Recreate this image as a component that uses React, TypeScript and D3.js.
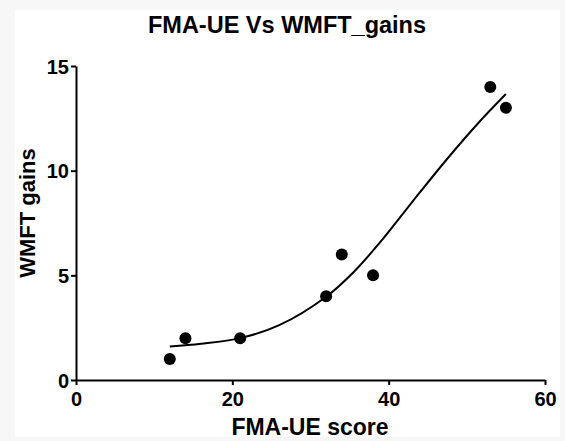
import React from 'react';
import * as d3 from 'd3';

// Observed data
const fmaScores = [12, 14, 21, 32, 34, 38, 53, 55];
const wmftGains = [1, 2, 2, 4, 6, 5, 14, 13];

// Fitted curve
const fitX = [12, 16, 21, 26, 32, 35.5, 39, 43, 47.5, 51.5, 55];
const fitY = [1.6, 1.73, 2.0, 2.62, 3.98, 5.15, 6.62, 8.5, 10.57, 12.29, 13.66];

const xTicks = [0, 20, 40, 60];
const yTicks = [0, 5, 10, 15];

const W = 565;
const H = 441;
const FONT = 'Arial, "Liberation Sans", Helvetica, sans-serif';

const App = () => {
  const ref = React.useRef<SVGSVGElement>(null);

  React.useEffect(() => {
    const svg = d3.select(ref.current);
    svg.selectAll('*').remove();

    // Page background and white panel
    svg.append('rect').attr('width', W).attr('height', H).attr('fill', '#f7f7f7');
    svg.append('rect')
      .attr('x', 15).attr('y', 10)
      .attr('width', 545).attr('height', 427)
      .attr('fill', '#ffffff');

    const x = d3.scaleLinear().domain([0, 60]).range([76, 545]);
    const y = d3.scaleLinear().domain([0, 15]).range([380, 66]);

    // Axes
    const xAxis = svg.append('g')
      .attr('transform', `translate(0,${y(0)})`)
      .call(d3.axisBottom(x).tickValues(xTicks).tickSize(5).tickSizeOuter(0).tickPadding(4));
    const yAxis = svg.append('g')
      .attr('transform', `translate(${x(0)},0)`)
      .call(d3.axisLeft(y).tickValues(yTicks).tickSize(5).tickSizeOuter(0).tickPadding(2));

    [xAxis, yAxis].forEach((g) => {
      g.select('.domain').attr('stroke', '#000').attr('stroke-width', 2);
      g.selectAll('.tick line').attr('stroke', '#000').attr('stroke-width', 2);
      g.selectAll('.tick text')
        .attr('fill', '#000')
        .style('font-family', FONT)
        .style('font-weight', 'bold')
        .style('font-size', '20px');
    });
    xAxis.selectAll('.tick text').attr('dy', '0.85em');
    yAxis.selectAll('.tick text').attr('dy', '0.36em');

    // Fitted curve
    const line = d3.line<number>()
      .x((d) => x(d))
      .y((_, i) => y(fitY[i]))
      .curve(d3.curveCatmullRom.alpha(0.5));
    svg.append('path')
      .datum(fitX)
      .attr('d', line)
      .attr('fill', 'none')
      .attr('stroke', '#000')
      .attr('stroke-width', 2);

    // Points
    svg.append('g')
      .selectAll('circle')
      .data(fmaScores)
      .join('circle')
      .attr('cx', (d) => x(d))
      .attr('cy', (_, i) => y(wmftGains[i]))
      .attr('r', 6)
      .attr('fill', '#000');

    // Title and axis titles
    svg.append('text')
      .attr('x', 287).attr('y', 33)
      .attr('text-anchor', 'middle')
      .style('font-family', FONT)
      .style('font-weight', 'bold')
      .style('font-size', '23.5px')
      .text('FMA-UE Vs WMFT_gains');

    svg.append('text')
      .attr('x', 310).attr('y', 435)
      .attr('text-anchor', 'middle')
      .style('font-family', FONT)
      .style('font-weight', 'bold')
      .style('font-size', '23px')
      .text('FMA-UE score');

    svg.append('text')
      .attr('transform', 'translate(35,213) rotate(-90)')
      .attr('text-anchor', 'middle')
      .style('font-family', FONT)
      .style('font-weight', 'bold')
      .style('font-size', '22px')
      .text('WMFT gains');
  }, []);

  return (
    <svg
      ref={ref}
      width={W}
      height={H}
      style={{ position: 'absolute', left: 0, top: 0, display: 'block' }}
    />
  );
};

export default App;
